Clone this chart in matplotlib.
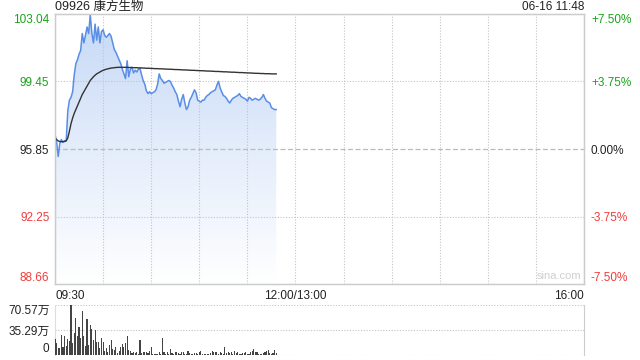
import numpy as np
import matplotlib
matplotlib.use('Agg')
import matplotlib.pyplot as plt
from matplotlib.patches import Polygon
from matplotlib.colors import LinearSegmentedColormap

plt.rcParams['font.family'] = ['Liberation Sans', 'Noto Sans CJK SC', 'DejaVu Sans']

############ data ########################################
##########################################################
title      = '09926 康方生物'
stamp      = '06-16 11:48'
prev_close = 95.85
price_ticks = [88.66, 92.25, 95.85, 99.45, 103.04]
pct_labels  = ['-7.50%', '-3.75%', '0.00%', '+3.75%', '+7.50%']
vol_ticks   = [0, 35.29, 70.57]
vol_labels  = ['0', '35.29万', '70.57万']
time_ticks  = [0, 150, 330]
time_labels = ['09:30', '12:00/13:00', '16:00']

# minutes after 09:30
price = [96.60, 96.25, 95.45, 96.15, 96.35, 96.20, 96.30, 96.30, 97.90, 98.45,
         98.60, 98.90, 99.80, 100.40, 100.60, 100.90, 101.10, 102.00, 101.50, 101.90,
         102.35, 102.00, 103.00, 102.00, 101.50, 102.50, 101.65, 102.35, 101.50, 102.10,
         102.20, 101.90, 101.80, 101.90, 102.00, 101.85, 101.50, 101.15, 101.00, 100.80,
         100.60, 100.40, 100.10, 99.85, 99.60, 100.55, 99.70, 100.10, 100.20, 99.90,
         100.05, 99.95, 100.10, 100.15, 99.80, 99.50, 99.30, 98.95, 98.80, 98.90,
         98.80, 98.85, 98.90, 99.00, 99.30, 99.85, 99.60, 99.50, 99.35, 99.40,
         99.45, 99.50, 99.45, 99.25, 99.10, 98.90, 98.75, 98.40, 98.10, 98.50,
         98.75, 98.30, 97.95, 98.10, 98.45, 98.60, 98.80, 99.00, 98.85, 98.45,
         98.40, 98.35, 98.45, 98.45, 98.60, 98.70, 98.75, 98.85, 98.90, 98.95,
         99.00, 99.25, 99.45, 99.10, 98.90, 98.70, 98.65, 98.55, 98.40, 98.30,
         98.45, 98.55, 98.60, 98.65, 98.70, 98.80, 98.65, 98.60, 98.55, 98.50,
         98.40, 98.60, 98.55, 98.45, 98.50, 98.55, 98.50, 98.45, 98.50, 98.60,
         98.75, 98.55, 98.40, 98.35, 98.30, 98.05, 98.00, 97.95, 97.95]

avg_price = [96.45, 96.35, 96.28, 96.25, 96.24, 96.24, 96.25, 96.28, 96.45, 96.80,
             97.20, 97.50, 97.75, 97.95, 98.15, 98.35, 98.55, 98.75, 98.90, 99.05,
             99.20, 99.35, 99.50, 99.60, 99.70, 99.78, 99.85, 99.90, 99.95, 100.00,
             100.04, 100.07, 100.10, 100.12, 100.14, 100.16, 100.17, 100.18, 100.19, 100.20,
             100.20, 100.20, 100.20, 100.20, 100.20, 100.20, 100.19, 100.19, 100.19, 100.18,
             100.18, 100.18, 100.17, 100.17, 100.17, 100.16, 100.16, 100.15, 100.15, 100.15,
             100.14, 100.14, 100.13, 100.13, 100.13, 100.12, 100.12, 100.12, 100.11, 100.11,
             100.10, 100.10, 100.10, 100.09, 100.09, 100.08, 100.08, 100.08, 100.07, 100.07,
             100.06, 100.06, 100.06, 100.05, 100.05, 100.04, 100.04, 100.04, 100.03, 100.03,
             100.02, 100.02, 100.02, 100.01, 100.01, 100.00, 100.00, 100.00, 99.99, 99.99,
             99.98, 99.98, 99.98, 99.97, 99.97, 99.96, 99.96, 99.96, 99.95, 99.95,
             99.94, 99.94, 99.94, 99.93, 99.93, 99.92, 99.92, 99.92, 99.91, 99.91,
             99.90, 99.90, 99.90, 99.89, 99.89, 99.88, 99.88, 99.88, 99.87, 99.87,
             99.87, 99.86, 99.86, 99.86, 99.86, 99.85, 99.85, 99.85, 99.85]

# volume in 万 shares
volume = [22.6, 17.4, 10.4, 10.4, 28.2, 11.8, 26.8, 13.2, 22.0, 20.0,
          70.57, 16.5, 31.5, 52.7, 27.3, 40.0, 23.5, 62.6, 26.8, 13.2,
          50.8, 14.0, 42.3, 36.7, 21.2, 35.3, 18.8, 18.8, 9.4, 24.5,
          18.8, 6.1, 9.4, 4.7, 14.0, 21.2, 8.0, 7.0, 11.8, 2.5,
          5.6, 11.8, 15.0, 11.8, 17.4, 27.3, 7.0, 6.0, 3.3, 4.7,
          2.3, 3.8, 1.5, 21.2, 2.8, 3.8, 3.8, 3.8, 2.8, 6.1,
          10.8, 1.4, 1.4, 1.9, 1.0, 3.8, 0.9, 23.5, 3.8, 1.0,
          3.8, 1.4, 8.0, 2.8, 1.0, 3.8, 3.8, 2.35, 1.0, 3.8,
          4.2, 1.4, 0.8, 5.6, 2.35, 1.0, 1.9, 2.35, 2.8, 1.0,
          4.2, 5.2, 1.4, 0.9, 0.8, 0.9, 1.4, 3.3, 5.6, 3.8,
          4.2, 4.2, 1.0, 4.2, 2.35, 1.0, 10.8, 3.3, 4.2, 3.3,
          4.7, 1.9, 5.2, 3.3, 3.8, 1.0, 1.9, 2.8, 3.3, 4.7,
          1.9, 0.9, 4.2, 5.6, 8.5, 4.2, 3.8, 1.9, 0.9, 1.0,
          3.3, 3.8, 6.1, 6.6, 2.35, 1.4, 2.8, 6.6, 2.35]

minutes = np.arange(len(price))

############ figure ######################################
##########################################################
fig = plt.figure(figsize=(6.4, 3.6), dpi=100)
ax  = fig.add_axes([55/640, 1-284/360, 529/640, 270/360])
axv = fig.add_axes([55/640, 1-355/360, 529/640, 50/360], sharex=ax)

grid_kw = dict(color='#c4c4c4', linestyle=(0, (1, 1.5)), linewidth=0.8)
green, red, black = '#1aa31a', '#f03c3c', '#222222'

ax.set_xlim(0, 330)
ax.set_ylim(price_ticks[0], price_ticks[-1])

# gradient fill under the price line
pts = np.column_stack([minutes, price])
pts = np.vstack([pts, [[minutes[-1], price_ticks[0]], [0, price_ticks[0]]]])
clip = Polygon(pts, closed=True, facecolor='none', edgecolor='none')
ax.add_patch(clip)
cmap = LinearSegmentedColormap.from_list('fill', ['#ffffff', '#e4edfb', '#c6d9f6'])
grad = np.linspace(0, 1, 256).reshape(-1, 1)
img = ax.imshow(grad, extent=[0, minutes[-1], price_ticks[0], price_ticks[-1]],
                origin='lower', aspect='auto', cmap=cmap, zorder=1)
img.set_clip_path(clip)

ax.plot(minutes, price, color='#5a8ee6', lw=1.1, zorder=3)
ax.plot(minutes, avg_price, color='#333333', lw=1.0, zorder=4)

# horizontal guides
for lvl in [price_ticks[1], price_ticks[3]]:
    ax.axhline(lvl, zorder=2, **grid_kw)
ax.axhline(prev_close, color='#bbbbbb', linestyle=(0, (4, 2)), linewidth=0.9, zorder=2)

ax.set_xticks(np.arange(0, 331, 30))
ax.set_xticklabels([time_labels[time_ticks.index(t)] if t in time_ticks else ''
                    for t in range(0, 331, 30)])
ax.grid(axis='x', zorder=2, **grid_kw)
ax.tick_params(axis='x', length=0, pad=4, labelsize=8.5, labelcolor='#222222')
xl = ax.get_xticklabels()
xl[0].set_ha('left')
xl[-1].set_ha('right')

ax.set_yticks(price_ticks)
ax.set_yticklabels(['%.2f' % p for p in price_ticks])
ax.tick_params(axis='y', length=0, pad=4, labelsize=8.5)

axr = ax.twinx()
axr.set_ylim(ax.get_ylim())
axr.set_yticks(price_ticks)
axr.set_yticklabels(pct_labels)
axr.tick_params(axis='y', length=0, pad=5, labelsize=8.5)

for labels in [ax.get_yticklabels(), axr.get_yticklabels()]:
    for lab, p in zip(labels, price_ticks):
        lab.set_color(green if p > prev_close else red if p < prev_close else black)
    labels[0].set_va('bottom')
    labels[-1].set_va('top')

for a in [ax, axr]:
    for s in a.spines.values():
        s.set_color('#cccccc')
        s.set_linewidth(0.9)

ax.text(0.995, 0.01, 'sina.com', transform=ax.transAxes, ha='right', va='bottom',
        fontsize=8, color='#cfcfcf')

############ volume ######################################
##########################################################
axv.bar(minutes, volume, width=0.7, color='#444444', zorder=3)
axv.set_ylim(vol_ticks[0], vol_ticks[-1])
axv.set_yticks(vol_ticks)
axv.set_yticklabels(vol_labels)
axv.tick_params(axis='y', length=0, pad=4, labelsize=8.5, labelcolor='#222222')
axv.tick_params(axis='x', bottom=False, labelbottom=False)
vl = axv.get_yticklabels()
vl[0].set_va('bottom')
vl[-1].set_va('top')
for lvl in vol_ticks:
    axv.axhline(lvl, zorder=2, **grid_kw)
axv.spines['top'].set_visible(False)
axv.spines['bottom'].set_visible(False)
axv.spines['left'].set_color('#dddddd')
axv.spines['right'].set_color('#cccccc')

fig.text(55/640, 1-7/360, title, ha='left', va='center', fontsize=9, color='#222222')
fig.text(584/640, 1-7/360, stamp, ha='right', va='center', fontsize=8.5, color='#222222')

fig.savefig('out.png', dpi=100)
